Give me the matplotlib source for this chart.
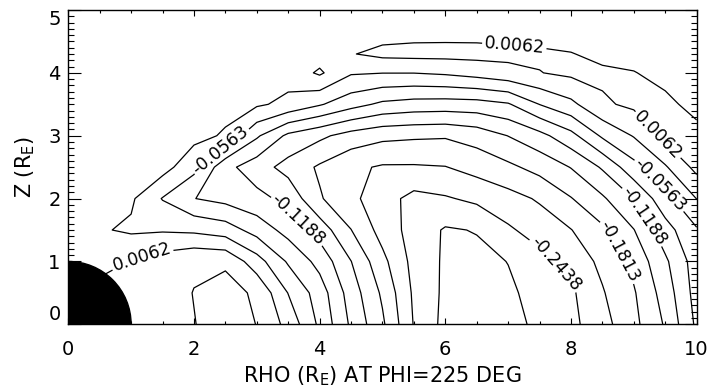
import numpy as np
import matplotlib
matplotlib.use('Agg')
import matplotlib.pyplot as plt
from matplotlib.patches import Wedge
from matplotlib.ticker import MultipleLocator

# grid of the field (rho across, z down the rows)
rho = [0.0, 0.5, 1.0, 1.5, 2.0, 2.5, 3.0, 3.5, 4.0, 4.5, 5.0,
       5.5, 6.0, 6.5, 7.0, 7.5, 8.0, 8.5, 9.0, 9.5, 10.0]
z = [0.0, 0.5, 1.0, 1.5, 2.0, 2.5, 3.0, 3.5, 4.0, 4.3, 4.5, 5.0]

b_z00 = [0.0218, 0.0218, 0.0218, 0.0296, 0.0368, 0.0468, 0.0371, -0.0038, -0.0626, -0.1241, -0.1760,
         -0.2457, -0.2844, -0.2891, -0.2844, -0.2688, -0.2522, -0.2235, -0.1897, -0.1466, -0.0813]
b_z05 = [0.0218, 0.0218, 0.0218, 0.0281, 0.0381, 0.0484, 0.0328, -0.0260, -0.0713, -0.1335, -0.1866,
         -0.2491, -0.2813, -0.2860, -0.2797, -0.2654, -0.2491, -0.2151, -0.1844, -0.1363, -0.0751]
b_z10 = [-0.0063, -0.0094, 0.0078, 0.0218, 0.0343, 0.0328, -0.0116, -0.0604, -0.0979, -0.1494, -0.2038,
         -0.2538, -0.2797, -0.2829, -0.2744, -0.2547, -0.2319, -0.2051, -0.1722, -0.1244, -0.0719]
b_z15 = [-0.0094, -0.0219, -0.0297, -0.0282, -0.0313, -0.0407, -0.0688, -0.0988, -0.1319, -0.1807, -0.2247,
         -0.2563, -0.2782, -0.2735, -0.2485, -0.2301, -0.2135, -0.1872, -0.1510, -0.1004, -0.0594]
b_z20 = [-0.0094, -0.0157, -0.0204, -0.0579, -0.0869, -0.0969, -0.1094, -0.1279, -0.1782, -0.2047, -0.2310,
         -0.2532, -0.2469, -0.2372, -0.2238, -0.2088, -0.1829, -0.1547, -0.1182, -0.0666, -0.0244]
b_z25 = [-0.0094, -0.0110, -0.0110, -0.0126, -0.0469, -0.1094, -0.1360, -0.1613, -0.1857, -0.2063, -0.2157,
         -0.2157, -0.2135, -0.2010, -0.1879, -0.1707, -0.1488, -0.1151, -0.0666, -0.0285, 0.0156]
b_z30 = [-0.0094, -0.0094, -0.0110, -0.0126, -0.0157, -0.0285, -0.0829, -0.1257, -0.1432, -0.1626, -0.1735,
         -0.1766, -0.1782, -0.1688, -0.1494, -0.1288, -0.0976, -0.0513, -0.0229, 0.0156, 0.0187]
b_z35 = [-0.0094, -0.0094, -0.0094, -0.0110, -0.0126, -0.0157, -0.0204, -0.0329, -0.0532, -0.0757, -0.0938,
         -0.1001, -0.1016, -0.1001, -0.0907, -0.0557, -0.0326, 0.0015, 0.0125, 0.0156, -0.0063]
b_z40 = [-0.0094, -0.0094, -0.0094, -0.0094, -0.0094, -0.0094, -0.0110, -0.0126, 0.0109, -0.0219, -0.0244,
         -0.0244, -0.0204, -0.0126, -0.0032, 0.0053, 0.0125, 0.0125, 0.0078, -0.0063, -0.0094]
b_z43 = [-0.0094, -0.0094, -0.0094, -0.0094, -0.0094, -0.0094, -0.0094, -0.0094, -0.0079, 0.0046, 0.0140,
         0.0156, 0.0156, 0.0156, 0.0140, 0.0109, 0.0078, -0.0032, -0.0079, -0.0094, -0.0094]
b_z45 = [-0.0094, -0.0094, -0.0094, -0.0094, -0.0094, -0.0094, -0.0094, -0.0094, -0.0094, -0.0047, 0.0031,
         0.0050, 0.0053, 0.0050, 0.0031, 0.0015, -0.0032, -0.0079, -0.0094, -0.0094, -0.0094]
b_z50 = [-0.0094, -0.0094, -0.0094, -0.0094, -0.0094, -0.0094, -0.0094, -0.0094, -0.0094, -0.0094, -0.0094,
         -0.0094, -0.0094, -0.0094, -0.0094, -0.0094, -0.0094, -0.0094, -0.0094, -0.0094, -0.0094]

plain_levels = [-0.2750, -0.2125, -0.1500, -0.0875, -0.0250, 0.0375]
label_levels = [-0.2438, -0.1813, -0.1188, -0.0563, 0.0062]

field = np.array([b_z00, b_z05, b_z10, b_z15, b_z20, b_z25,
                  b_z30, b_z35, b_z40, b_z43, b_z45, b_z50])

fig = plt.figure(figsize=(7.09, 3.89), dpi=100)
ax = fig.add_axes([0.0963, 0.1663, 0.8863, 0.808])

ax.contour(rho, z, field, levels=plain_levels, colors='black', linewidths=0.9,
           linestyles='solid', zorder=2)
cs = ax.contour(rho, z, field, levels=label_levels, colors='black', linewidths=0.9,
                linestyles='solid', zorder=2)

fmt = {lv: '%.4f' % lv for lv in label_levels}
label_pos = [(1.15, 1.15), (7.1, 4.45), (9.37, 3.0),
             (2.4, 2.8), (9.4, 2.2),
             (3.7, 1.7), (9.2, 1.75),
             (8.85, 1.2),
             (7.8, 1.0)]
ax.clabel(cs, inline=True, inline_spacing=2, fmt=fmt, fontsize=12.5, manual=label_pos)

# the Earth
ax.add_patch(Wedge((0, 0), 1.0, 0, 90, facecolor='black', edgecolor='black', zorder=3))

ax.set_xlim(0, 10)
ax.set_ylim(0, 5)
ax.set_xticks([0, 2, 4, 6, 8, 10])
ax.set_yticks([0, 1, 2, 3, 4, 5])
ax.xaxis.set_minor_locator(MultipleLocator(0.5))
ax.yaxis.set_minor_locator(MultipleLocator(0.1))
ax.tick_params(which='both', direction='in', top=True, right=True, width=0.8, labelsize=14)
ax.xaxis.set_tick_params(which='major', length=4.5, pad=11)
ax.xaxis.set_tick_params(which='minor', length=2.3)
ax.yaxis.set_tick_params(which='major', length=9, pad=5.5)
ax.yaxis.set_tick_params(which='minor', length=4.5)
for sp in ax.spines.values():
    sp.set_linewidth(1.0)

yt = ax.yaxis.get_major_ticks()
yt[0].label1.set_verticalalignment('bottom')
yt[-1].label1.set_verticalalignment('top')

ax.set_xlabel(r'RHO (R$_\mathregular{E}$) AT PHI=225 DEG', fontsize=15, labelpad=4)
ax.set_ylabel(r'Z (R$_\mathregular{E}$)', fontsize=15, labelpad=8)

fig.savefig('out.png', dpi=100)
